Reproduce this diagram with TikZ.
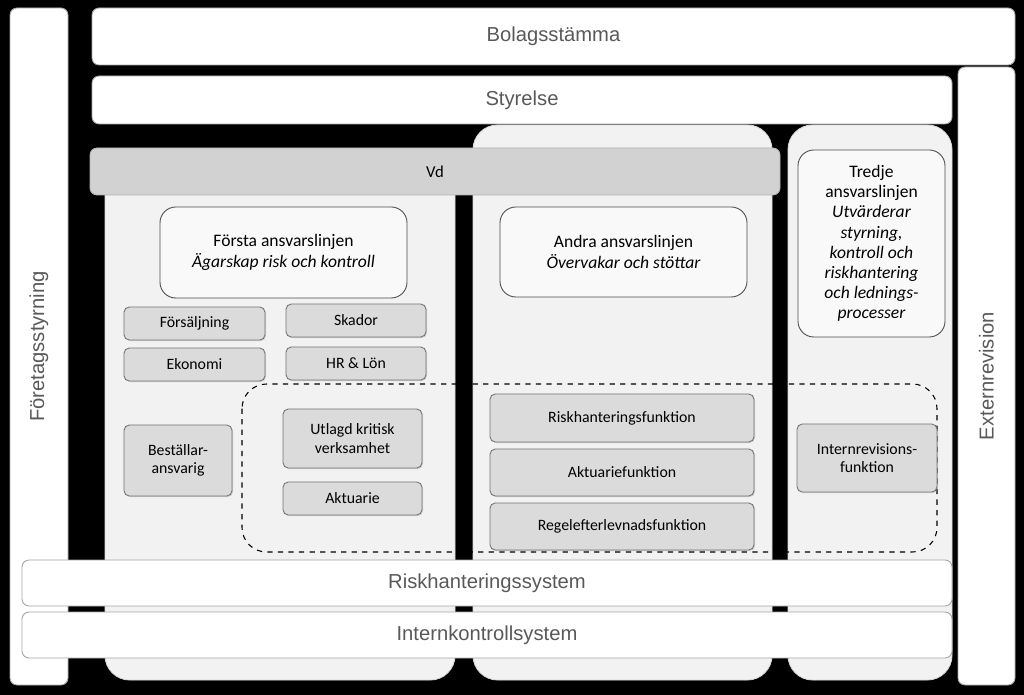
\documentclass[tikz,border=0pt]{standalone}
\usepackage{fontspec}
\setmainfont{Carlito}
\newfontfamily\arialf{Liberation Sans}
\usetikzlibrary{shadows}
\definecolor{txt}{HTML}{595959}
\newcommand{\Bx}[7][]{\node[#1, minimum width={(#5-#3)*0.02cm}, minimum height={(#6-#4)*0.02cm}] (#2) at ({(#3+#5)/2},{(#4+#6)/2}) {#7};}
\tikzset{
 x=0.02cm,y=-0.02cm,
 base/.style={draw=gray!70, rounded corners=4pt, inner sep=1pt, align=center, line width=0.5pt},
 big/.style={base, fill=white, text=txt, font=\arialf\fontsize{11.5}{14}\selectfont},
 panel/.style={base, fill=gray!10, draw=gray!30, rounded corners=14pt},
 head/.style={base, fill=gray!5, draw=black!70, rounded corners=9pt, font=\fontsize{10}{11.5}\selectfont},
 small/.style={base, fill=gray!28, draw=black!55, rounded corners=3pt, font=\fontsize{9}{10.5}\selectfont, drop shadow={opacity=0.3, shadow xshift=0.6pt, shadow yshift=-0.6pt}},
}
\begin{document}
\begin{tikzpicture}
\fill[black] (0,0) rectangle (1024,695);
\useasboundingbox (0,0) rectangle (1024,695);
\Bx[big]{fs}{10}{8}{68}{685}{}
\node[rotate=90, text=txt, font=\arialf\fontsize{11.5}{14}\selectfont] (fst) at (fs) {Företagsstyrning};
\Bx[big]{bs}{92}{8}{1015}{65}{Bolagsstämma}
\Bx[big]{er}{958}{67}{1015}{685}{}
\node[rotate=90, text=txt, font=\arialf\fontsize{11.5}{14}\selectfont] (ert) at (er) {Externrevision};
\Bx[big]{st}{92}{76}{952}{124}{Styrelse}
\Bx[panel]{p1}{105}{170}{455}{680}{}
\Bx[panel]{p2}{473}{125}{772}{680}{}
\Bx[panel]{p3}{788}{125}{952}{680}{}
\Bx[base, fill=gray!35, draw=gray!60, font=\fontsize{9.5}{11}\selectfont]{vd}{90}{148}{780}{195}{Vd}
\Bx[head]{h1}{160}{207}{407}{298}{Första ansvarslinjen\\\itshape Ägarskap risk och kontroll}
\Bx[head]{h2}{500}{207}{747}{297}{Andra ansvarslinjen\\\itshape Övervakar och stöttar}
\Bx[head]{h3}{798}{150}{945}{337}{Tredje\\ansvarslinjen\\\itshape Utvärderar\\\itshape styrning,\\\itshape kontroll och\\\itshape riskhantering\\\itshape och lednings-\\\itshape processer}
\draw[dashed, rounded corners=14pt, line width=0.6pt] (242,384) rectangle (937,552);
\Bx[small]{b1}{124}{307}{265}{340}{Försäljning}
\Bx[small]{b2}{286}{304}{426}{337}{Skador}
\Bx[small]{b3}{124}{348}{265}{381}{Ekonomi}
\Bx[small]{b4}{286}{347}{426}{380}{HR \& Lön}
\Bx[small]{b5}{124}{425}{232}{496}{Beställar-\\ansvarig}
\Bx[small]{b6}{283}{409}{422}{468}{Utlagd kritisk\\verksamhet}
\Bx[small]{b7}{283}{482}{422}{515}{Aktuarie}
\Bx[small]{b8}{490}{394}{754}{442}{Riskhanteringsfunktion}
\Bx[small]{b9}{490}{449}{754}{496}{Aktuariefunktion}
\Bx[small]{b10}{490}{503}{754}{550}{Regelefterlevnadsfunktion}
\Bx[small]{b11}{797}{424}{937}{492}{Internrevisions-\\funktion}
\Bx[big]{rs}{22}{560}{952}{606}{Riskhanteringssystem}
\Bx[big]{ik}{22}{612}{952}{658}{Internkontrollsystem}
\end{tikzpicture}
\end{document}
